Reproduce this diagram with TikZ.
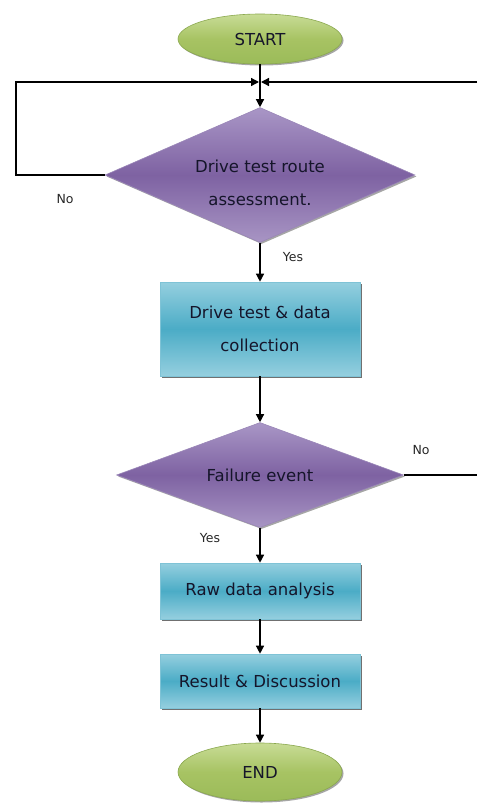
\documentclass[tikz,border=0pt]{standalone}
\usepackage{fontspec}
\setmainfont{DejaVu Sans}
\usetikzlibrary{shapes.geometric,arrows.meta,shadows}
\definecolor{grnT}{HTML}{C8DC96}
\definecolor{grnM}{HTML}{A7C363}
\definecolor{grnB}{HTML}{9BBB59}
\definecolor{grnD}{HTML}{8AA84E}
\definecolor{purT}{HTML}{A996C6}
\definecolor{purM}{HTML}{7E62A2}
\definecolor{purB}{HTML}{A895C4}
\definecolor{purD}{HTML}{9A86B8}
\definecolor{bluT}{HTML}{95CFDF}
\definecolor{bluM}{HTML}{4BACC6}
\definecolor{bluD}{HTML}{7FC3D6}
\definecolor{txt}{HTML}{15152A}
\begin{document}
\begin{tikzpicture}[x=1pt,y=-1pt,
  base/.style={text=txt, font=\fontsize{16.5}{33}\selectfont, align=center, inner sep=0pt},
  terminal/.style={base, ellipse, draw=grnD, line width=0.6pt, top color=grnT, bottom color=grnB, middle color=grnM,
    minimum width=164pt, drop shadow={shadow xshift=1.5pt, shadow yshift=-1.5pt, fill=black, opacity=0.35}},
  decision/.style={base, diamond, aspect=2.3, draw=purD, line width=0.6pt, top color=purT, bottom color=purB, middle color=purM,
    drop shadow={shadow xshift=1.5pt, shadow yshift=-1.5pt, fill=black, opacity=0.35}},
  process/.style={base, rectangle, draw=bluD, line width=0.6pt, top color=bluT, bottom color=bluT, middle color=bluM,
    minimum width=200pt, drop shadow={shadow xshift=2pt, shadow yshift=-2pt, fill=black!80, opacity=0.7}},
  conn/.style={draw=black, line width=1.3pt, -{Triangle[length=8pt,width=8pt]}},
  plain/.style={draw=black, line width=1.3pt},
  lbl/.style={font=\fontsize{12.5}{14}\selectfont, text=black!85, inner sep=0pt}]
\useasboundingbox (0,0) rectangle (477,806);

\node[terminal, minimum height=50pt] (start) at (260,39) {START};
\coordinate (j) at (260,82);
\coordinate (rin) at (477,82);
\coordinate (lx) at (16,0);
\coordinate (rout) at (477,475);

\node[decision, minimum width=310pt, minimum height=135pt] (d1) at (260,175) {};
\node[base] (d1t) at ([yshift=-8pt]d1.center) {Drive test route\\assessment.};
\node[process, minimum height=94pt] (p1) at (260,329) {Drive test \& data\\collection};
\node[decision, minimum width=287pt, minimum height=105pt] (d2) at (260,475) {Failure event};
\node[process, minimum height=56pt] (p2) at (260,591) {Raw data analysis};
\node[process, minimum height=54pt] (p3) at (260,681) {Result \& Discussion};
\node[terminal, minimum height=58pt] (end) at (260,772) {END};

\node[lbl] (no1) at (65,199) {No};
\node[lbl] (yes1) at (293,257) {Yes};
\node[lbl] (no2) at (421,450) {No};
\node[lbl] (yes2) at (210,538) {Yes};

\draw[plain] (start.south) -- (j);
\draw[conn] (j) -- (d1.north);
\draw[conn, shorten >=1pt] (d1.west) -- (d1.west -| lx) |- (j);
\draw[conn, shorten >=1pt] (rin) -- (j);
\draw[conn] (d1.south) -- (p1.north);
\draw[conn] (p1.south) -- (d2.north);
\draw[plain] (d2.east) -- (rout);
\draw[conn] (d2.south) -- (p2.north);
\draw[conn] (p2.south) -- (p3.north);
\draw[conn] (p3.south) -- (end.north);
\end{tikzpicture}
\end{document}
